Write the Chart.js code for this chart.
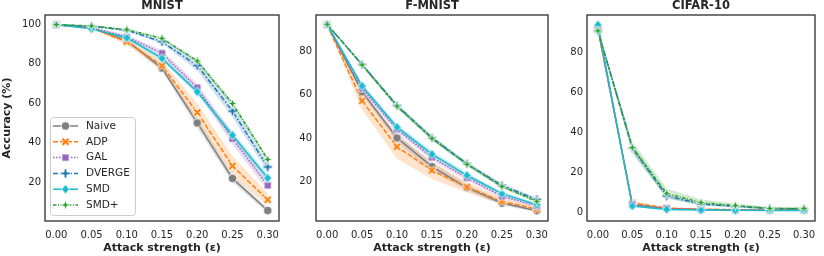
<!DOCTYPE html>
<html>
<head>
<meta charset="utf-8">
<script src="https://cdn.jsdelivr.net/npm/chart.js@4.4.0/dist/chart.umd.min.js"></script>
<style>
  html, body { margin: 0; padding: 0; background: #fff; }
  #wrap { position: relative; width: 824px; height: 256px; }
  canvas { position: absolute; top: 0; }
</style>
</head>
<body>
<div id="wrap">
  <canvas id="mnist" width="290" height="256" style="left:0px"></canvas>
  <canvas id="fmnist" width="270" height="256" style="left:290px"></canvas>
  <canvas id="cifar" width="264" height="256" style="left:560px"></canvas>
</div>
<script>
// attack strengths on the x axis
const eps = [0, 0.05, 0.10, 0.15, 0.20, 0.25, 0.30];
const xTicks = [0, 0.05, 0.10, 0.15, 0.20, 0.25, 0.30];

const methods = ['Naive', 'ADP', 'GAL', 'DVERGE', 'SMD', 'SMD+'];

// MNIST accuracy (%)
const mnistNaive  = [99.6, 98.0, 91.5, 77.7, 50.0, 22.0, 5.8];
const mnistAdp    = [99.5, 98.0, 91.0, 78.9, 55.3, 28.3, 11.2];
const mnistGal    = [99.6, 98.2, 93.5, 85.2, 67.8, 42.1, 18.5];
const mnistDverge = [99.6, 98.8, 96.8, 91.0, 79.0, 56.0, 27.8];
const mnistSmd    = [99.6, 97.5, 93.0, 82.6, 65.7, 43.8, 22.2];
const mnistSmdP   = [99.7, 99.0, 97.1, 92.7, 81.3, 59.8, 31.6];
// half-width of the shaded bands
const mnistSpread = [
  [0, 0.3, 0.8, 1.5, 2.5, 2.0, 1.2],
  [0, 0.5, 1.5, 2.5, 4.5, 5.0, 3.0],
  [0, 0.3, 1.0, 1.5, 2.0, 3.0, 2.5],
  [0, 0.2, 0.5, 1.0, 2.5, 3.0, 2.5],
  [0, 0.3, 0.8, 1.5, 1.5, 2.0, 2.0],
  [0, 0.2, 0.3, 0.5, 0.8, 1.0, 1.0]
];

// F-MNIST accuracy (%)
const fmnistNaive  = [92.5, 61.4, 40.0, 26.7, 17.0, 9.8, 6.3];
const fmnistAdp    = [92.3, 57.2, 35.9, 25.0, 17.2, 10.6, 7.0];
const fmnistGal    = [92.5, 63.0, 44.0, 31.0, 21.5, 13.0, 8.5];
const fmnistDverge = [92.6, 74.0, 55.0, 40.0, 28.0, 18.0, 11.5];
const fmnistSmd    = [92.6, 64.1, 45.0, 32.5, 22.7, 14.2, 9.1];
const fmnistSmdP   = [92.7, 73.9, 54.7, 39.8, 27.8, 17.5, 10.6];
const fmnistSpread = [
  [0, 1.5, 2.0, 2.0, 1.5, 1.0, 0.8],
  [0, 4.0, 5.5, 4.0, 2.5, 1.5, 1.0],
  [0, 1.0, 1.5, 1.5, 1.2, 1.0, 0.8],
  [0, 0.8, 1.0, 1.0, 1.0, 1.0, 0.8],
  [0, 1.2, 1.5, 1.5, 1.2, 1.0, 0.8],
  [0, 0.8, 1.0, 1.0, 0.8, 0.8, 0.8]
];

// CIFAR-10 accuracy (%)
const cifarNaive  = [92.0, 3.5, 1.8, 1.2, 1.0, 0.9, 0.9];
const cifarAdp    = [91.0, 4.5, 2.0, 1.4, 1.2, 1.0, 1.0];
const cifarGal    = [91.5, 3.8, 1.8, 1.2, 1.0, 0.9, 0.9];
const cifarDverge = [90.5, 32.0, 8.0, 4.0, 2.8, 1.8, 1.5];
const cifarSmd    = [93.6, 3.0, 1.3, 1.0, 0.9, 0.8, 0.8];
const cifarSmdP   = [90.6, 32.2, 9.3, 4.7, 3.2, 1.8, 1.8];
const cifarSpread = [
  [0.5, 0.5, 0.3, 0.2, 0.2, 0.2, 0.2],
  [0.5, 1.0, 0.4, 0.3, 0.2, 0.2, 0.2],
  [0.5, 0.6, 0.3, 0.2, 0.2, 0.2, 0.2],
  [0.5, 2.0, 1.0, 0.5, 0.4, 0.3, 0.3],
  [0.5, 0.5, 0.3, 0.2, 0.2, 0.2, 0.2],
  [0.5, 3.0, 2.5, 1.5, 1.0, 0.8, 0.6]
];

const mnistTicks = [20, 40, 60, 80, 100];
const fmnistTicks = [20, 40, 60, 80];
const cifarTicks = [0, 20, 40, 60, 80];

const colors = ['#7f7f7f', '#ff7f0e', '#9467bd', '#1f77b4', '#17becf', '#2ca02c'];
const dashes = [[], [5, 2], [1.5, 1.5], [5, 2, 1.5, 2], [], [3.5, 1.5, 1, 1.5]];
const shapes = ['circle', 'x', 'square', 'plus', 'diamond', 'star'];
const ink = '#262626';

Chart.defaults.font.family = '"DejaVu Sans", sans-serif';

function alpha(hex, a) {
  const n = parseInt(hex.slice(1), 16);
  return `rgba(${n >> 16}, ${(n >> 8) & 255}, ${n & 255}, ${a})`;
}

// seaborn-like filled markers with a white edge
function makeMarker(shape, color) {
  const c = document.createElement('canvas');
  c.width = c.height = 13;
  const g = c.getContext('2d');
  g.translate(6.5, 6.5);
  g.beginPath();
  if (shape === 'circle') {
    g.arc(0, 0, 4.3, 0, Math.PI * 2);
  } else if (shape === 'square') {
    g.rect(-3.6, -3.6, 7.2, 7.2);
  } else if (shape === 'diamond') {
    g.moveTo(0, -4.8); g.lineTo(4, 0); g.lineTo(0, 4.8); g.lineTo(-4, 0); g.closePath();
  } else if (shape === 'star') {
    const r = 5, q = 1.3;
    g.moveTo(0, -r); g.lineTo(q, -q); g.lineTo(r, 0); g.lineTo(q, q);
    g.lineTo(0, r); g.lineTo(-q, q); g.lineTo(-r, 0); g.lineTo(-q, -q); g.closePath();
  } else {
    if (shape === 'x') g.rotate(Math.PI / 4);
    const a = 1.4, L = 4.6;
    const pts = [[a, L], [a, a], [L, a], [L, -a], [a, -a], [a, -L], [-a, -L], [-a, -a], [-L, -a], [-L, a], [-a, a], [-a, L]];
    pts.forEach((p, i) => i ? g.lineTo(p[0], p[1]) : g.moveTo(p[0], p[1]));
    g.closePath();
  }
  g.fillStyle = color;
  g.fill();
  g.lineWidth = 0.9;
  g.strokeStyle = '#fff';
  g.stroke();
  return c;
}
const markers = shapes.map((s, i) => makeMarker(s, colors[i]));

const framePlugin = {
  id: 'frame',
  afterDraw(chart) {
    const { ctx, chartArea: a } = chart;
    ctx.save();
    ctx.strokeStyle = ink;
    ctx.lineWidth = 1.25;
    ctx.strokeRect(a.left, a.top, a.right - a.left, a.bottom - a.top);
    ctx.fillStyle = ink;
    ctx.font = 'bold 11.5px "DejaVu Sans"';
    ctx.textAlign = 'center';
    ctx.textBaseline = 'middle';
    ctx.fillText(chart.options.plugins.frame.title, (a.left + a.right) / 2, 6);
    ctx.restore();
  }
};

const legendPlugin = {
  id: 'boxLegend',
  afterDraw(chart) {
    const { ctx, chartArea } = chart;
    const x = chartArea.left + 5, y = chartArea.bottom - 104, w = 85, h = 98;
    ctx.save();
    ctx.beginPath();
    ctx.roundRect(x + 0.5, y + 0.5, w, h, 3);
    ctx.fillStyle = 'rgba(255,255,255,0.8)';
    ctx.fill();
    ctx.strokeStyle = '#cccccc';
    ctx.lineWidth = 1;
    ctx.stroke();
    methods.forEach((m, i) => {
      const cy = y + 9 + i * 15.8;
      ctx.beginPath();
      ctx.setLineDash(dashes[i]);
      ctx.strokeStyle = colors[i];
      ctx.lineWidth = 1.5;
      ctx.moveTo(x + 3, cy);
      ctx.lineTo(x + 28, cy);
      ctx.stroke();
      ctx.setLineDash([]);
      ctx.drawImage(markers[i], x + 15.5 - 6.5, cy - 6.5);
      ctx.fillStyle = ink;
      ctx.font = '10.5px "DejaVu Sans"';
      ctx.textBaseline = 'middle';
      ctx.fillText(m, x + 36, cy);
    });
    ctx.restore();
  }
};

function buildChart(id, title, series, spreads, yMin, yMax, yTicks, axisWidth, padRight, first) {
  const datasets = [];
  series.forEach((vals, i) => {
    datasets.push({
      data: vals.map((v, j) => ({ x: eps[j], y: v - spreads[i][j] })),
      borderWidth: 0, borderColor: 'transparent', pointRadius: 0, fill: false, order: 20
    });
    datasets.push({
      data: vals.map((v, j) => ({ x: eps[j], y: v + spreads[i][j] })),
      borderWidth: 0, borderColor: 'transparent', pointRadius: 0, fill: '-1',
      backgroundColor: alpha(colors[i], 0.22), order: 20
    });
  });
  series.forEach((vals, i) => {
    datasets.push({
      label: methods[i],
      data: vals.map((v, j) => ({ x: eps[j], y: v })),
      borderColor: colors[i],
      backgroundColor: colors[i],
      borderWidth: 1.5,
      borderDash: dashes[i],
      pointStyle: markers[i],
      pointRadius: 4,
      fill: false,
      tension: 0,
      order: 6 - i
    });
  });

  return new Chart(document.getElementById(id), {
    type: 'line',
    data: { datasets },
    options: {
      responsive: false,
      animation: false,
      devicePixelRatio: 1,
      layout: { padding: { top: 15, right: padRight, left: 0, bottom: 0 } },
      plugins: {
        legend: { display: false },
        tooltip: { enabled: false },
        filler: { drawTime: 'beforeDatasetsDraw' },
        frame: { title }
      },
      scales: {
        x: {
          type: 'linear',
          min: -0.016,
          max: 0.316,
          grid: { display: false, drawTicks: false },
          border: { display: false },
          afterBuildTicks: s => { s.ticks = xTicks.map(v => ({ value: v })); },
          afterFit: s => { s.height = 35; },
          ticks: { color: ink, font: { size: 10 }, padding: 8, maxRotation: 0, callback: v => v.toFixed(2) },
          title: { display: true, text: 'Attack strength (ε)', color: ink, font: { size: 11, weight: 'bold' }, padding: { top: 0, bottom: 1 } }
        },
        y: {
          min: yMin,
          max: yMax,
          grid: { display: false, drawTicks: false },
          border: { display: false },
          afterBuildTicks: s => { s.ticks = yTicks.map(v => ({ value: v })); },
          afterFit: s => { s.width = axisWidth; },
          ticks: { color: ink, font: { size: 10 }, padding: 4 },
          title: { display: first, text: 'Accuracy (%)', color: ink, font: { size: 11, weight: 'bold' }, padding: { top: 1, bottom: 0 } }
        }
      }
    },
    plugins: first ? [framePlugin, legendPlugin] : [framePlugin]
  });
}

buildChart('mnist', 'MNIST',
  [mnistNaive, mnistAdp, mnistGal, mnistDverge, mnistSmd, mnistSmdP],
  mnistSpread, 0.5, 104.5, mnistTicks, 45, 11, true);
buildChart('fmnist', 'F-MNIST',
  [fmnistNaive, fmnistAdp, fmnistGal, fmnistDverge, fmnistSmd, fmnistSmdP],
  fmnistSpread, 1.5, 97, fmnistTicks, 26, 12, false);
buildChart('cifar', 'CIFAR-10',
  [cifarNaive, cifarAdp, cifarGal, cifarDverge, cifarSmd, cifarSmdP],
  cifarSpread, -4.5, 98.5, cifarTicks, 27, 9, false);
</script>
</body>
</html>
